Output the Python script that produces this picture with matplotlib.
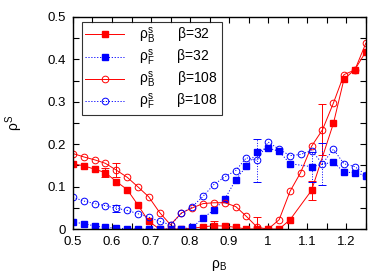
import matplotlib
matplotlib.use("Agg")
import matplotlib.pyplot as plt
from matplotlib.ticker import MultipleLocator, FuncFormatter

plt.rcParams['font.family'] = ['Liberation Sans', 'DejaVu Sans']
plt.rcParams['mathtext.fontset'] = 'custom'
plt.rcParams['mathtext.rm'] = 'Liberation Sans'
plt.rcParams['mathtext.it'] = 'Liberation Sans'
plt.rcParams['mathtext.bf'] = 'Liberation Sans'

# --- data ---
rho_b = [0.500, 0.528, 0.556, 0.583, 0.611, 0.639, 0.667, 0.694, 0.722, 0.750,
         0.778, 0.806, 0.833, 0.861, 0.889, 0.917, 0.944, 0.972, 1.000, 1.028,
         1.056, 1.083, 1.111, 1.139, 1.167, 1.194, 1.222, 1.250]
# beta=32 runs have no points at 1.083 and 1.139
rho_b32 = [0.500, 0.528, 0.556, 0.583, 0.611, 0.639, 0.667, 0.694, 0.722, 0.750,
           0.778, 0.806, 0.833, 0.861, 0.889, 0.917, 0.944, 0.972, 1.000, 1.028,
           1.056, 1.111, 1.167, 1.194, 1.222, 1.250]

bos_32 = [0.154, 0.149, 0.141, 0.133, 0.112, 0.093, 0.056, 0.018, 0.000, 0.000,
          0.000, 0.002, 0.005, 0.008, 0.007, 0.004, 0.000, 0.000, 0.000, 0.000,
          0.022, 0.091, 0.249, 0.353, 0.376, 0.418]
fer_32 = [0.016, 0.013, 0.007, 0.004, 0.002, 0.001, 0.000, 0.000, 0.000, 0.000,
          0.000, 0.004, 0.026, 0.045, 0.071, 0.116, 0.148, 0.182, 0.191, 0.183,
          0.154, 0.147, 0.158, 0.134, 0.133, 0.126]
bos_108 = [0.178, 0.170, 0.163, 0.155, 0.139, 0.122, 0.099, 0.076, 0.039, 0.010,
           0.038, 0.050, 0.060, 0.062, 0.062, 0.053, 0.030, 0.004, 0.000, 0.022,
           0.089, 0.133, 0.195, 0.234, 0.297, 0.364, 0.375, 0.438]
fer_108 = [0.075, 0.066, 0.060, 0.055, 0.049, 0.044, 0.036, 0.028, 0.018, 0.010,
           0.037, 0.053, 0.077, 0.105, 0.123, 0.138, 0.168, 0.162, 0.205, 0.188,
           0.173, 0.176, 0.185, 0.154, 0.188, 0.154, 0.147, 0.128]

# error bars only on a few points: (x, y, err)
err_bos_32 = [(0.583, 0.133, 0.010), (0.861, 0.008, 0.012), (1.111, 0.091, 0.023)]
err_fer_32 = [(1.111, 0.147, 0.035)]
err_bos_108 = [(0.611, 0.139, 0.016), (0.972, 0.004, 0.025), (1.139, 0.234, 0.060)]
err_fer_108 = [(0.611, 0.049, 0.008), (0.972, 0.162, 0.051), (1.139, 0.154, 0.050)]

fig = plt.figure(figsize=(3.9, 2.73), dpi=100)
ax = fig.add_axes([0.187, 0.161, 0.751, 0.777])

red = '#ff0000'
blue = '#0000ff'
dots = (0, (1.2, 1.8))

ax.plot(rho_b32, bos_32, color=red, lw=0.7, ls='-', marker='s', ms=4.3,
        mfc=red, mec=red, label=r'$\mathrm{\rho_B^s}$      β=32')
ax.plot(rho_b32, fer_32, color=blue, lw=0.7, ls=dots, marker='s', ms=4.3,
        mfc=blue, mec=blue, label=r'$\mathrm{\rho_F^s}$      β=32')
ax.plot(rho_b, bos_108, color=red, lw=0.7, ls='-', marker='o', ms=4.8,
        mfc='none', mec=red, mew=0.7, label=r'$\mathrm{\rho_B^s}$      β=108')
ax.plot(rho_b, fer_108, color=blue, lw=0.7, ls=dots, marker='o', ms=4.8,
        mfc='none', mec=blue, mew=0.7, label=r'$\mathrm{\rho_F^s}$      β=108')

for errs, c, style in [(err_bos_32, red, '-'), (err_bos_108, red, '-'),
                       (err_fer_32, blue, ':'), (err_fer_108, blue, ':')]:
    ex = [e[0] for e in errs]
    ey = [e[1] for e in errs]
    ee = [e[2] for e in errs]
    eb = ax.errorbar(ex, ey, yerr=ee, fmt='none', ecolor=c, elinewidth=0.7,
                     capsize=3, capthick=0.7)
    for lc in eb[2]:
        lc.set_linestyle(style)

ax.set_xlim(0.5, 1.25)
ax.set_ylim(0, 0.5)
ax.xaxis.set_major_locator(MultipleLocator(0.1))
ax.xaxis.set_minor_locator(MultipleLocator(0.05))
ax.yaxis.set_major_locator(MultipleLocator(0.1))
ax.yaxis.set_minor_locator(MultipleLocator(0.05))
ax.xaxis.set_major_formatter(FuncFormatter(lambda v, p: f'{v:g}'))
ax.yaxis.set_major_formatter(FuncFormatter(lambda v, p: f'{v:g}'))
ax.tick_params(which='both', direction='in', top=True, right=True,
               length=4, width=0.8, labelsize=9.5, pad=5)
for s in ax.spines.values():
    s.set_linewidth(1.0)

ax.set_xlabel(r'$\mathrm{\rho_B}$', fontsize=10, labelpad=7)
ax.set_ylabel(r'$\mathrm{\rho^S}$', fontsize=10, labelpad=16)

leg = ax.legend(loc='upper left', bbox_to_anchor=(0.03, 0.975), fontsize=10,
                frameon=True, fancybox=False, edgecolor='black',
                handlelength=2.8, handletextpad=1.1, borderpad=0.25,
                labelspacing=0.15, borderaxespad=0)
leg.get_frame().set_linewidth(0.8)

fig.savefig('out.png', dpi=100)
